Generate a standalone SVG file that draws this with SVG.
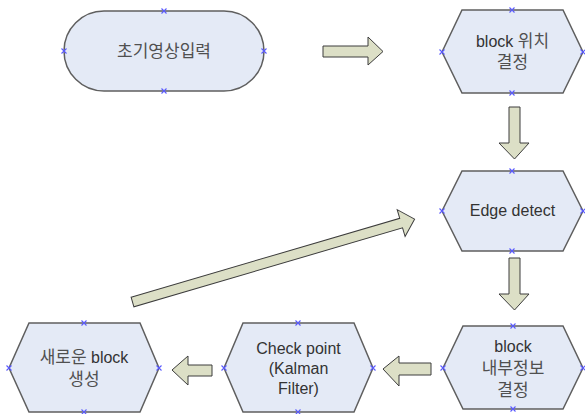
<svg xmlns="http://www.w3.org/2000/svg" width="585" height="414" viewBox="0 0 585 414">
  <style>
    .node { fill: #e4eaf6; stroke: #5f5f5f; stroke-width: 1.5; }
    .arrow { fill: #dcdfc6; stroke: #3c3c3c; stroke-width: 1; stroke-linejoin: miter; }
    .label { font-family: "Liberation Sans", "Noto Sans CJK KR", sans-serif; font-size: 16px; fill: #333333; text-anchor: middle; dominant-baseline: central; }
    .ko { font-size: 17px; fill: #505050; }
    .pin { stroke: #5a5aff; stroke-width: 1.1; fill: none; }
  </style>
  <defs>
    <path id="x" class="pin" d="M-2.5,-2.5 L2.5,2.5 M-2.5,2.5 L2.5,-2.5"/>
  </defs>
  <rect width="585" height="414" fill="#ffffff"/>

  <!-- block arrows between steps -->
  <g id="connectors">
    <polygon class="arrow" points="323,46 368,46 368,37 383,51.5 368,65 368,57 323,57"/>
    <polygon class="arrow" points="509,107 520,107 520,143 529,143 514.5,159 499,143 509,143"/>
    <polygon class="arrow" points="509,258 520,258 520,294 529,294 514.5,310 499,294 509,294"/>
    <polygon class="arrow" points="431,363 431,375 399,375 399,386 383,369 399,356 399,363"/>
    <polygon class="arrow" points="212,365 212,376 188,376 188,385 172,370 188,356 188,365"/>
    <polygon class="arrow" transform="translate(132.5,302) rotate(-16.37)" points="0,-5 280,-5 280,-14 294,0 280,14 280,5 0,5"/>
  </g>

  <g id="input">
    <rect class="node" x="64" y="11" width="200" height="80" rx="40" ry="40"/>
    <text class="label ko" x="164" y="51">초기영상입력</text>
    <use href="#x" x="164" y="11"/><use href="#x" x="164" y="91"/>
    <use href="#x" x="64" y="51"/><use href="#x" x="264" y="51"/>
  </g>

  <g id="block-position">
    <polygon class="node" points="462,10 563,10 583,52 563,93 462,93 442,52"/>
    <text class="label" x="512.5" y="41">block <tspan class="ko">위치</tspan></text>
    <text class="label ko" x="512.5" y="62">결정</text>
    <use href="#x" x="512" y="10"/><use href="#x" x="512" y="93"/>
    <use href="#x" x="442" y="52"/><use href="#x" x="583" y="52"/>
  </g>

  <g id="edge-detect">
    <polygon class="node" points="462,171 563,171 583,211 563,251 462,251 442,211"/>
    <text class="label" x="512.5" y="210">Edge detect</text>
    <use href="#x" x="512" y="171"/><use href="#x" x="512" y="251"/>
    <use href="#x" x="442" y="211"/><use href="#x" x="583" y="211"/>
  </g>

  <g id="block-info">
    <polygon class="node" points="463,326 563,326 583,368 563,409 463,409 443,368"/>
    <text class="label" x="513" y="346">block</text>
    <text class="label ko" x="513" y="368">내부정보</text>
    <text class="label ko" x="513" y="390">결정</text>
    <use href="#x" x="513" y="326"/><use href="#x" x="513" y="409"/>
    <use href="#x" x="443" y="368"/><use href="#x" x="583" y="368"/>
  </g>

  <g id="check-point">
    <polygon class="node" points="243,323 354,323 373,368 354,412 243,412 224,368"/>
    <text class="label" x="298.5" y="348">Check point</text>
    <text class="label" x="298.5" y="368">(Kalman</text>
    <text class="label" x="298.5" y="388">Filter)</text>
    <use href="#x" x="298" y="323"/><use href="#x" x="298" y="412"/>
    <use href="#x" x="224" y="368"/><use href="#x" x="373" y="368"/>
  </g>

  <g id="new-block">
    <polygon class="node" points="29,323 140,323 159,368 140,412 29,412 9,368"/>
    <text class="label" x="84" y="357"><tspan class="ko">새로운</tspan> block</text>
    <text class="label ko" x="84" y="379">생성</text>
    <use href="#x" x="84" y="323"/><use href="#x" x="84" y="412"/>
    <use href="#x" x="9" y="368"/><use href="#x" x="159" y="368"/>
  </g>
</svg>
